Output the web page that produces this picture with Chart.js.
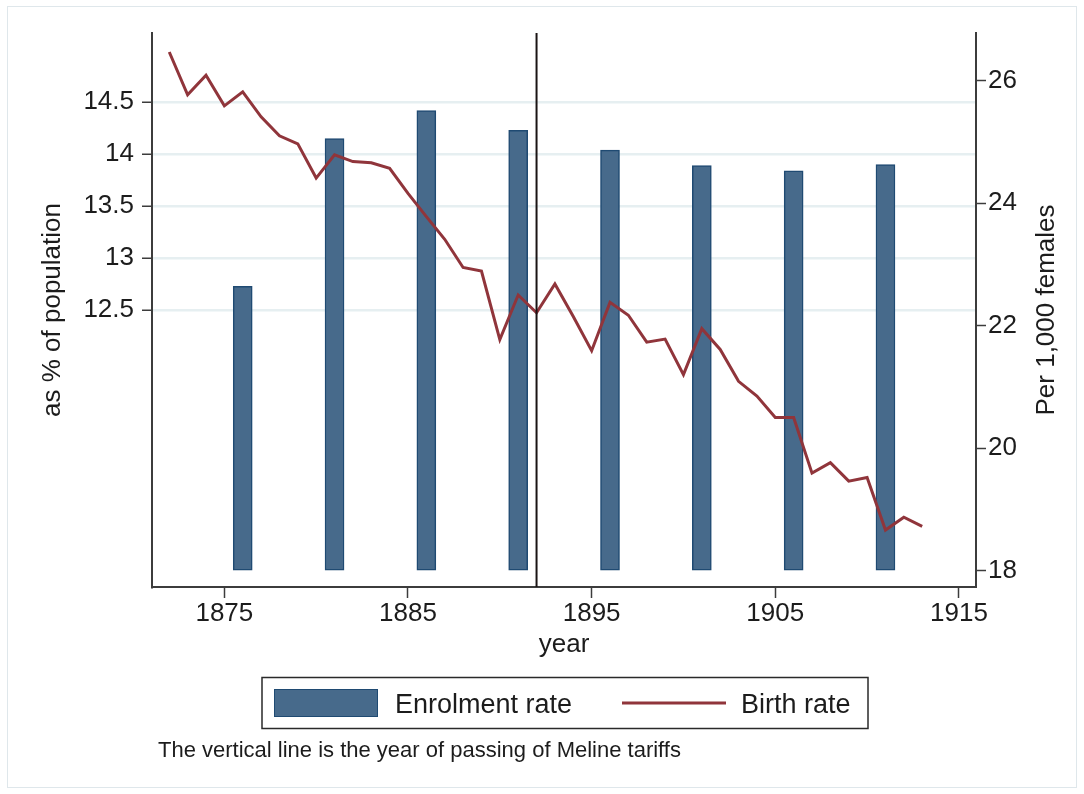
<!DOCTYPE html>
<html>
<head>
<meta charset="utf-8">
<title>Enrolment and birth rate</title>
<script src="https://cdn.jsdelivr.net/npm/chart.js@4"></script>
<style>
  html, body { margin: 0; padding: 0; background: #fff; }
  #wrap { width: 1084px; height: 794px; }
</style>
</head>
<body>
<div id="wrap"><canvas id="chart" width="1084" height="794"></canvas></div>
<script>
// values
var birthYears = [1872, 1873, 1874, 1875, 1876, 1877, 1878, 1879, 1880, 1881,
  1882, 1883, 1884, 1885, 1886, 1887, 1888, 1889, 1890, 1891, 1892, 1893,
  1894, 1895, 1896, 1897, 1898, 1899, 1900, 1901, 1902, 1903, 1904, 1905,
  1906, 1907, 1908, 1909, 1910, 1911, 1912, 1913];
var birthRate = [26.47, 25.77, 26.09, 25.59, 25.82, 25.41, 25.10, 24.97, 24.41, 24.79,
  24.68, 24.66, 24.57, 24.16, 23.78, 23.41, 22.95, 22.89, 21.77, 22.50, 22.21, 22.68,
  22.15, 21.59, 22.38, 22.17, 21.73, 21.78, 21.20, 21.95, 21.61, 21.09, 20.85, 20.50,
  20.50, 19.59, 19.76, 19.46, 19.52, 18.66, 18.87, 18.72];

var enrolYears = [1876, 1881, 1886, 1891, 1896, 1901, 1906, 1911];
var enrolRate = [12.73, 14.15, 14.42, 14.23, 14.04, 13.89, 13.84, 13.90];

var yearTicks = [1875, 1885, 1895, 1905, 1915];
var enrolTicks = [12.5, 13, 13.5, 14, 14.5];
var birthTicks = [18, 20, 22, 24, 26];

var melineYear = 1892;
var note = "The vertical line is the year of passing of Meline tariffs";

var FONT = "'Liberation Sans', Arial, Helvetica, sans-serif";
var INK = "#1c1c1c";
var AXIS = "#3c3c3c";
var BAR_FILL = "#476a8b";
var BAR_EDGE = "#1f4a72";
var LINE_RED = "#90353b";

function fixedTicks(values) {
  return function (scale) {
    scale.ticks = values.map(function (v) { return { value: v }; });
  };
}

function toPoints(xs, ys) {
  return xs.map(function (x, i) { return { x: x, y: ys[i] }; });
}

// frame, meline line, right title, legend and note
var extras = {
  id: "extras",
  beforeDraw: function (chart) {
    var ctx = chart.ctx;
    ctx.save();
    ctx.strokeStyle = "#dfe7eb";
    ctx.lineWidth = 1;
    ctx.strokeRect(7.5, 6.5, 1069, 781);
    ctx.restore();
  },
  afterDatasetsDraw: function (chart) {
    var ctx = chart.ctx;
    var area = chart.chartArea;
    var x = chart.scales.x.getPixelForValue(melineYear);
    ctx.save();
    ctx.strokeStyle = "#1a1414";
    ctx.lineWidth = 2;
    ctx.beginPath();
    ctx.moveTo(x, area.top);
    ctx.lineTo(x, area.bottom);
    ctx.stroke();
    ctx.restore();
  },
  afterDraw: function (chart) {
    var ctx = chart.ctx;
    var area = chart.chartArea;
    var sets = chart.data.datasets;
    ctx.save();

    // right axis title, reading upwards like the left one
    ctx.fillStyle = INK;
    ctx.font = "26px " + FONT;
    ctx.textAlign = "center";
    ctx.textBaseline = "middle";
    ctx.translate(1047, (area.top + area.bottom) / 2);
    ctx.rotate(-Math.PI / 2);
    ctx.fillText("Per 1,000 females", 0, 0);
    ctx.setTransform(1, 0, 0, 1, 0, 0);

    // legend box
    ctx.strokeStyle = "#2a2a2a";
    ctx.lineWidth = 1.5;
    ctx.strokeRect(262, 677.5, 606, 51);

    ctx.fillStyle = BAR_FILL;
    ctx.fillRect(274, 689, 104, 28);
    ctx.strokeStyle = BAR_EDGE;
    ctx.lineWidth = 1;
    ctx.strokeRect(274.5, 689.5, 103, 27);

    ctx.strokeStyle = LINE_RED;
    ctx.lineWidth = 3;
    ctx.beginPath();
    ctx.moveTo(622, 703);
    ctx.lineTo(726, 703);
    ctx.stroke();

    ctx.fillStyle = INK;
    ctx.font = "27px " + FONT;
    ctx.textAlign = "left";
    ctx.textBaseline = "alphabetic";
    ctx.fillText(sets[1].label, 395, 713);
    ctx.fillText(sets[0].label, 741, 713);

    // note
    ctx.font = "22px " + FONT;
    ctx.fillText(note, 158, 757);
    ctx.restore();
  }
};

var ctx = document.getElementById("chart").getContext("2d");

new Chart(ctx, {
  type: "bar",
  data: {
    datasets: [
      {
        type: "line",
        label: "Birth rate",
        data: toPoints(birthYears, birthRate),
        yAxisID: "y2",
        borderColor: LINE_RED,
        borderWidth: 3,
        pointRadius: 0,
        tension: 0,
        fill: false,
        order: 0,
      },
      {
        type: "bar",
        label: "Enrolment rate",
        data: toPoints(enrolYears, enrolRate),
        yAxisID: "y",
        base: 10,
        backgroundColor: BAR_FILL,
        borderColor: BAR_EDGE,
        borderWidth: 1.5,
        borderSkipped: false,
        barThickness: 19,
        order: 1,
      },
    ],
  },
  options: {
    responsive: false,
    animation: false,
    events: [],
    layout: { padding: { top: 33, left: 0, right: 0, bottom: 134 } },
    plugins: {
      legend: { display: false },
      tooltip: { enabled: false },
    },
    scales: {
      x: {
        type: "linear",
        position: "bottom",
        min: 1871.06,
        max: 1915.93,
        offset: false,
        afterBuildTicks: fixedTicks(yearTicks),
        afterFit: function (s) { s.height = 73; },
        ticks: {
          callback: function (v) { return String(v); },
          font: { family: FONT, size: 26 },
          color: INK,
          padding: 0,
          maxRotation: 0,
          autoSkip: false,
        },
        grid: {
          offset: false,
          drawOnChartArea: false,
          tickLength: 11,
          tickColor: AXIS,
          tickWidth: 1.5,
        },
        border: { color: AXIS, width: 2 },
        title: {
          display: true,
          text: "year",
          color: INK,
          font: { family: FONT, size: 26 },
          padding: { top: 0, bottom: 0 },
        },
      },
      y: {
        type: "linear",
        position: "left",
        min: 9.837,
        max: 15.166,
        afterBuildTicks: fixedTicks(enrolTicks),
        afterFit: function (s) { s.width = 152; },
        ticks: {
          callback: function (v) { return String(v); },
          font: { family: FONT, size: 26 },
          color: INK,
          padding: 8,
        },
        grid: {
          color: "#e6eff1",
          lineWidth: 2.5,
          tickLength: 10,
          tickColor: AXIS,
          tickWidth: 1.5,
        },
        border: { color: AXIS, width: 2 },
        title: {
          display: true,
          text: "as % of population",
          color: INK,
          font: { family: FONT, size: 26 },
          padding: { top: 37.4, bottom: 0 },
        },
      },
      y2: {
        type: "linear",
        position: "right",
        min: 17.73,
        max: 26.78,
        afterBuildTicks: fixedTicks(birthTicks),
        afterFit: function (s) { s.width = 108; },
        ticks: {
          callback: function (v) { return String(v); },
          font: { family: FONT, size: 26 },
          color: INK,
          padding: 2,
        },
        grid: {
          drawOnChartArea: false,
          tickLength: 10,
          tickColor: AXIS,
          tickWidth: 1.5,
        },
        border: { color: AXIS, width: 2 },
      },
    },
  },
  plugins: [extras],
});
</script>
</body>
</html>
